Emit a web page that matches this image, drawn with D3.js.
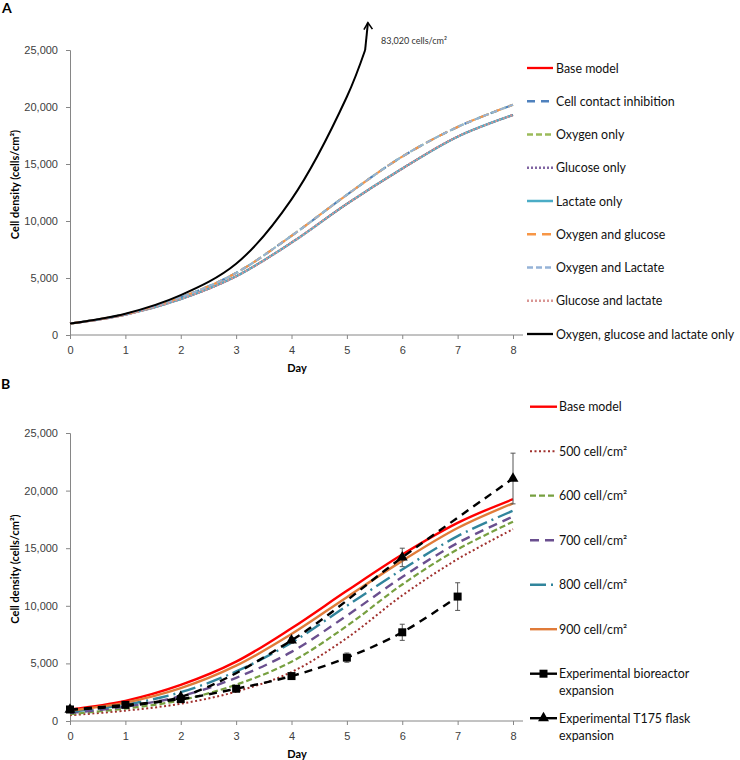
<!DOCTYPE html>
<html><head><meta charset="utf-8">
<script src="https://cdnjs.cloudflare.com/ajax/libs/d3/7.8.5/d3.min.js"></script>
<style>
body{margin:0;background:#fff;}
svg{display:block;font-family:Lato, "Open Sans", sans-serif;}
.tick text{fill:#404040;font-size:11px;}
</style></head>
<body>
<svg id="chart" width="740" height="760"></svg>
<script>
// ---------- DATA ----------
const days = [0,1,2,3,4,5,6,7,8];
const dayTicks = [0,1,2,3,4,5,6,7,8];
const yTicks = [0,5000,10000,15000,20000,25000];

// Panel A
const baseModelA      = [1000,1780,3150,5150,8100,11500,14600,17400,19300];
const cellContactA    = [1000,1820,3300,5450,8700,12300,15650,18250,20200];
const oxygenOnlyA     = [1000,1820,3300,5450,8700,12300,15650,18250,20200];
const glucoseOnlyA    = [1000,1780,3150,5150,8100,11500,14600,17400,19300];
const lactateOnlyA    = [1000,1780,3150,5150,8100,11500,14600,17400,19300];
const oxyGlucoseA     = [1000,1820,3300,5450,8700,12300,15650,18250,20200];
const oxyLactateA     = [1000,1820,3300,5450,8700,12300,15650,18250,20200];
const glucLactateA    = [1000,1780,3150,5150,8100,11500,14600,17400,19300];
const allThreeDays    = [0,1,2,3,4,5,5.33];
const allThreeA       = [1000,1870,3500,6250,11900,20900,25000];
const arrowTip        = [5.38,27400];
const arrowLabel      = "83,020 cells/cm²";

// Panel B
const baseModelB = [1000,1750,3130,5150,8050,11300,14450,17200,19250];
const seed500    = [500,900,1500,2550,4250,7200,10900,14050,16650];
const seed600    = [600,1080,1800,3150,5150,8250,11850,14900,17300];
const seed700    = [700,1250,2150,3750,6000,9150,12500,15450,17750];
const seed800    = [800,1420,2500,4300,6800,10000,13150,16050,18250];
const seed900    = [900,1590,2850,4800,7550,10750,13900,16750,18900];
const bioDays    = [0,1,2,3,4,5,6,7];
const bioVals    = [1000,1400,1900,2800,3900,5500,7700,10800];
const bioErr     = [60,100,100,150,150,400,700,1200];
const flaskDays  = [0,2,4,6,8];
const flaskVals  = [1000,2100,7000,14200,21050];
const flaskErr   = [60,150,250,800,2200];

const legendA = ["Base model","Cell contact inhibition","Oxygen only","Glucose only","Lactate only","Oxygen and glucose","Oxygen and Lactate","Glucose and lactate","Oxygen, glucose and lactate only"];
const legendB = [["Base model"],["500 cell/cm²"],["600 cell/cm²"],["700 cell/cm²"],["800 cell/cm²"],["900 cell/cm²"],["Experimental bioreactor","expansion"],["Experimental T175 flask","expansion"]];

// ---------- STYLES ----------
const stylesA = [
  {c:"#FF0000", w:2, d:null},
  {c:"#4F81BD", w:2.2, d:"8,6"},
  {c:"#9BBB59", w:2, d:"6,3"},
  {c:"#8064A2", w:2, d:"2,2"},
  {c:"#4BACC6", w:2.2, d:null},
  {c:"#F79646", w:2.2, d:"9,6"},
  {c:"#95B3D7", w:2, d:"6,3"},
  {c:"#D99694", w:2, d:"2,2"},
  {c:"#000000", w:2, d:null}
];
const stylesB = [
  {c:"#FF0000", w:2.4, d:null},
  {c:"#A0302D", w:2, d:"2,2.5"},
  {c:"#77A040", w:2.2, d:"6,3"},
  {c:"#6A4F8F", w:2.4, d:"9,6"},
  {c:"#31859C", w:2.4, d:"16,5,2,5"},
  {c:"#E07B39", w:2.4, d:null},
  {c:"#000000", w:2.4, d:"8,6", m:"square"},
  {c:"#000000", w:2.4, d:"8,6", m:"triangle"}
];

const svg = d3.select("#chart");
const x = d3.scaleLinear().domain([0,8]).range([70,513]);
const yA = d3.scaleLinear().domain([0,25000]).range([335,50]);
const yB = d3.scaleLinear().domain([0,25000]).range([721,433]);
const curve = d3.curveCatmullRom.alpha(0.5);

function axes(y, dayY){
  const gy = svg.append("g").attr("transform","translate(70,0)")
    .call(d3.axisLeft(y).tickValues(yTicks).tickFormat(d3.format(",")).tickSize(4).tickPadding(8));
  const gx = svg.append("g").attr("transform",`translate(0,${y(0)})`)
    .call(d3.axisBottom(x).tickValues(dayTicks).tickFormat(d3.format("d")).tickSize(4).tickPadding(7));
  [gy,gx].forEach(g=>{g.selectAll("path,line").attr("stroke","#868686");});
  gx.select(".domain").remove();
  svg.append("line").attr("x1",70).attr("x2",523).attr("y1",y(0)).attr("y2",y(0)).attr("stroke","#868686");
  svg.append("text").attr("x",297).attr("y",dayY).attr("text-anchor","middle")
    .attr("font-size",11).attr("font-weight","bold").text("Day");
  const cy = (y(0)+y(25000))/2 - 8;
  svg.append("text").attr("transform",`translate(19,${cy}) rotate(-90)`).attr("text-anchor","middle")
    .attr("font-size",11).attr("font-weight","bold")
    .text("Cell density (cells/cm²)");
}

function drawLine(xs, ys, y, st){
  const pts = xs.map((d,i)=>[d,ys[i]]);
  svg.append("path").datum(pts)
    .attr("d", d3.line().x(d=>x(d[0])).y(d=>y(d[1])).curve(curve))
    .attr("fill","none").attr("stroke",st.c).attr("stroke-width",st.w)
    .attr("stroke-dasharray",st.d);
}

// ---------- PANEL A ----------
svg.append("text").attr("x",2).attr("y",13).attr("font-size",14).attr("font-weight","bold").text("A");
axes(yA, 372);
const seriesA = [baseModelA,cellContactA,oxygenOnlyA,glucoseOnlyA,lactateOnlyA,oxyGlucoseA,oxyLactateA,glucLactateA];
seriesA.forEach((s,i)=>drawLine(days,s,yA,stylesA[i]));
drawLine(allThreeDays, allThreeA, yA, stylesA[8]);
// arrow continuing off-scale
const last = [allThreeDays[allThreeDays.length-1], allThreeA[allThreeA.length-1]];
const tx = x(arrowTip[0]), ty = yA(arrowTip[1]);
svg.append("path").attr("d",`M${x(last[0])},${yA(last[1])}L${tx},${ty}`)
  .attr("stroke","#000").attr("stroke-width",2).attr("fill","none");
svg.append("path").attr("d",`M${tx-4},${ty+7}L${tx},${ty}L${tx+4.5},${ty+6.5}`)
  .attr("stroke","#000").attr("stroke-width",1.6).attr("fill","none");
svg.append("text").attr("x",381).attr("y",44).attr("font-size",9).attr("fill","#333").text(arrowLabel);

// legend A
legendA.forEach((t,i)=>{
  const ly = 68 + i*33.25;
  const st = stylesA[i];
  svg.append("line").attr("x1",527).attr("x2",553).attr("y1",ly).attr("y2",ly)
    .attr("stroke",st.c).attr("stroke-width",st.w+0.3).attr("stroke-dasharray",st.d);
  svg.append("text").attr("x",556).attr("y",ly+4.5).attr("font-size",12.4).attr("fill","#111").text(t);
});

// ---------- PANEL B ----------
svg.append("text").attr("x",1).attr("y",389).attr("font-size",14).attr("font-weight","bold").text("B");
axes(yB, 758);
const seriesB = [baseModelB,seed500,seed600,seed700,seed800,seed900];
seriesB.forEach((s,i)=>drawLine(days,s,yB,stylesB[i]));

function errBars(xs, vals, errs){
  xs.forEach((d,i)=>{
    const cx = x(d), t = yB(vals[i]+errs[i]), b = yB(vals[i]-errs[i]);
    svg.append("path").attr("d",`M${cx},${t}L${cx},${b}M${cx-2.5},${t}L${cx+2.5},${t}M${cx-2.5},${b}L${cx+2.5},${b}`)
      .attr("stroke","#555").attr("stroke-width",1).attr("fill","none");
  });
}
errBars(bioDays,bioVals,bioErr);
errBars(flaskDays,flaskVals,flaskErr);
drawLine(bioDays,bioVals,yB,stylesB[6]);
drawLine(flaskDays,flaskVals,yB,stylesB[7]);
const sq = d3.symbol().type(d3.symbolSquare).size(64);
const tri = d3.symbol().type(d3.symbolTriangle).size(52);
svg.selectAll(".sq").data(bioDays.map((d,i)=>[d,bioVals[i]])).enter().append("path")
  .attr("d",sq).attr("transform",d=>`translate(${x(d[0])},${yB(d[1])})`).attr("fill","#000");
svg.selectAll(".tri").data(flaskDays.map((d,i)=>[d,flaskVals[i]])).enter().append("path")
  .attr("d",tri).attr("transform",d=>`translate(${x(d[0])},${yB(d[1])})`).attr("fill","#000");

// legend B
legendB.forEach((t,i)=>{
  const ly = 406.7 + i*44.5;
  const st = stylesB[i];
  svg.append("line").attr("x1",530).attr("x2",557).attr("y1",ly).attr("y2",ly)
    .attr("stroke",st.c).attr("stroke-width",st.w).attr("stroke-dasharray",st.m?null:st.d);
  if(st.m==="square") svg.append("path").attr("d",sq).attr("transform",`translate(543.5,${ly})`).attr("fill","#000");
  if(st.m==="triangle") svg.append("path").attr("d",tri).attr("transform",`translate(543.5,${ly})`).attr("fill","#000");
  t.forEach((line,j)=>{
    svg.append("text").attr("x",559).attr("y",ly+4.5+j*17).attr("font-size",12.4).attr("fill","#111").text(line);
  });
});
</script>
</body></html>
